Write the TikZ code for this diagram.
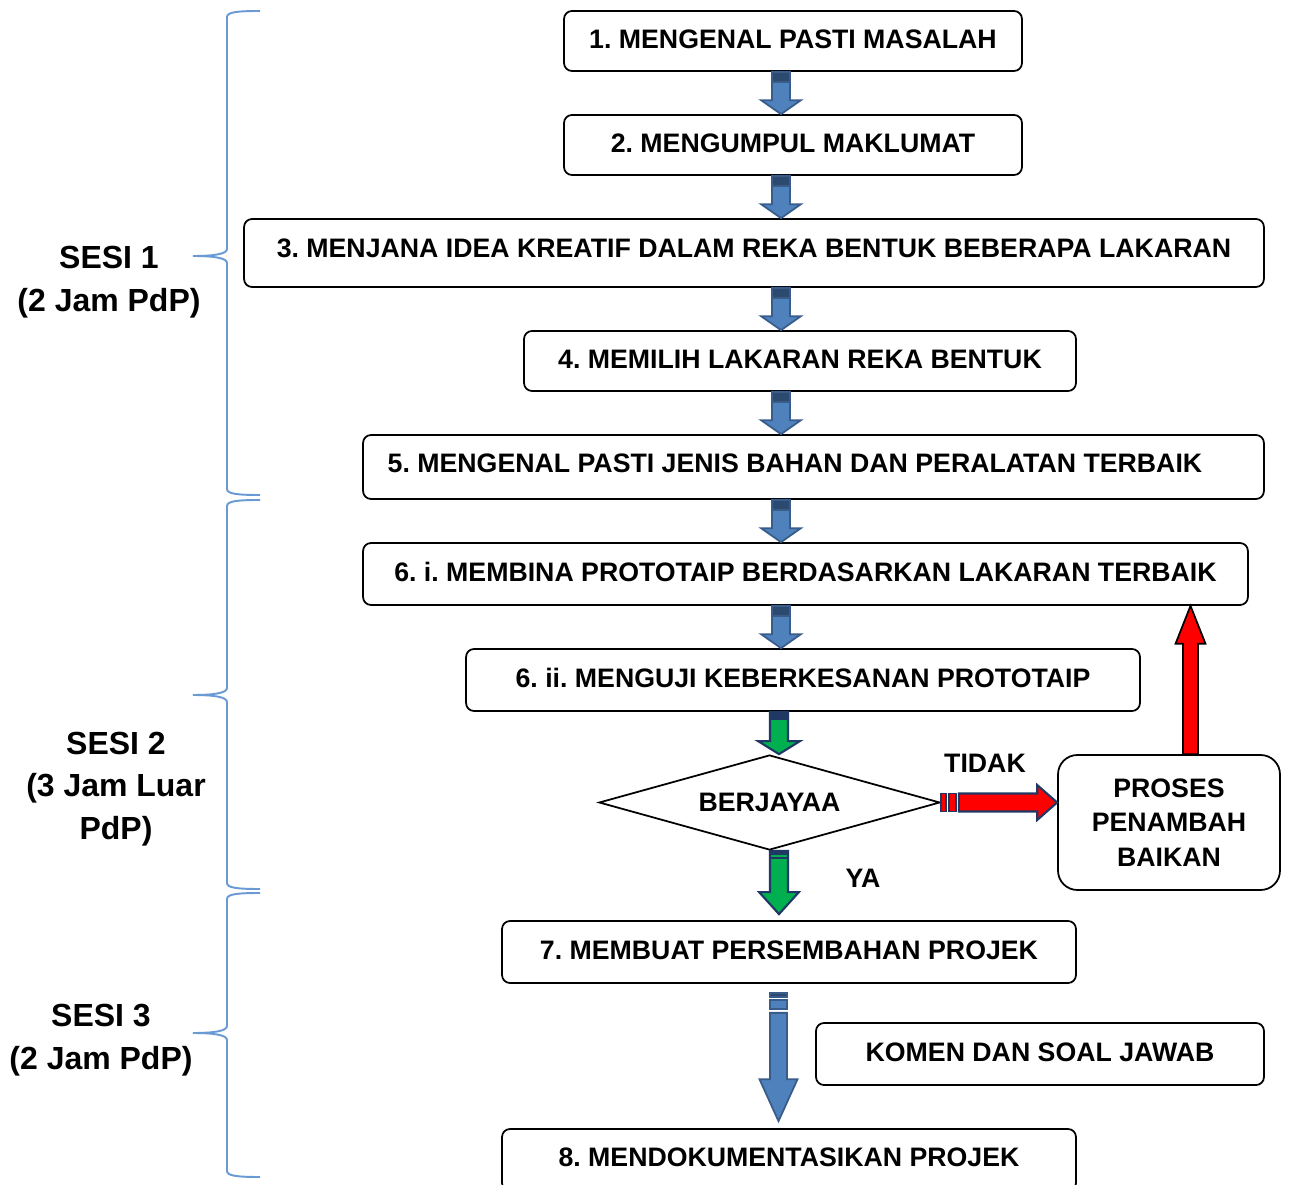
\documentclass[tikz,border=0pt]{standalone}
\usepackage{fontspec}
\setmainfont{Liberation Sans}
\frenchspacing
\usetikzlibrary{shapes.geometric,calc}
\definecolor{bluefill}{HTML}{4F81BD}
\definecolor{blueline}{HTML}{385D8A}
\definecolor{bluecap}{HTML}{2C4A70}
\definecolor{navy}{HTML}{1F3864}
\definecolor{greenfill}{HTML}{00B050}
\definecolor{bracecol}{HTML}{6A9AD4}
\definecolor{redfill}{HTML}{FF0000}
\tikzset{
  box/.style={draw=black, line width=1pt, rounded corners=4.5pt, inner sep=0pt, text depth=2.2pt,
    font=\fontsize{15.2}{18}\selectfont\bfseries},
  plaintext/.style={inner sep=0pt, font=\fontsize{15.2}{18}\selectfont\bfseries},
  sesi/.style={inner sep=0pt, align=center, font=\fontsize{18.2}{24.2}\selectfont\bfseries},
  bracestyle/.style={draw=bracecol, line width=1.1pt}
}
% down block arrow: #1 top point, #2 tip point, #3 shaft half, #4 head half, #5 head length, #6 fill, #7 draw, #8 lw
\newcommand{\dblk}[8]{%
  \path[fill=#6,draw=#7,line width=#8,line join=miter] let \p1=#1, \p2=#2 in
  (\x2-#3,\y1) -- (\x2+#3,\y1) -- (\x2+#3,\y2+#5) -- (\x2+#4,\y2+#5) -- (\x2,\y2)
  -- (\x2-#4,\y2+#5) -- (\x2-#3,\y2+#5) -- cycle;}
% up block arrow
\newcommand{\ublk}[8]{%
  \path[fill=#6,draw=#7,line width=#8,line join=miter] let \p1=#1, \p2=#2 in
  (\x2-#3,\y1) -- (\x2+#3,\y1) -- (\x2+#3,\y2-#5) -- (\x2+#4,\y2-#5) -- (\x2,\y2)
  -- (\x2-#4,\y2-#5) -- (\x2-#3,\y2-#5) -- cycle;}
% right block arrow
\newcommand{\rblk}[8]{%
  \path[fill=#6,draw=#7,line width=#8,line join=miter] let \p1=#1, \p2=#2 in
  (\x1,\y2-#3) -- (\x2-#5,\y2-#3) -- (\x2-#5,\y2-#4) -- (\x2,\y2) -- (\x2-#5,\y2+#4)
  -- (\x2-#5,\y2+#3) -- (\x1,\y2+#3) -- cycle;}
% cap on top of a down arrow: #1 point, #2 half width, #3 height, #4 fill, #5 draw, #6 lw
\newcommand{\dcap}[6]{%
  \path[fill=#4,draw=#5,line width=#6] let \p1=#1 in
  (\x1-#2,\y1) rectangle (\x1+#2,\y1-#3);}
\newcommand{\sesibrace}[3]{%
  \draw[bracestyle] (260,#1) .. controls (238,#1) and (227,#1+1) .. (227,#1+6)
   -- (227,#2-7) .. controls (227,#2-2) and (214,#2) .. (193,#2)
   .. controls (214,#2) and (227,#2+2) .. (227,#2+7)
   -- (227,#3-6) .. controls (227,#3-1) and (238,#3) .. (260,#3);}
\begin{document}
\begin{tikzpicture}[x=0.02cm, y=-0.02cm]
\useasboundingbox (0,0) rectangle (1292,1185);
\clip (0,0) rectangle (1292,1185);
\fill[white] (0,0) rectangle (1292,1185);

% columns
\coordinate (col) at (781,0);
\coordinate (gcol) at (779,0);
\coordinate (bcol) at (778.5,0);
\coordinate (ucol) at (1190.5,0);

% boxes
\node[box, minimum width=9.16cm, minimum height=1.2cm] (b1) at (793,41) {1. MENGENAL PASTI MASALAH};
\node[box, minimum width=9.16cm, minimum height=1.2cm] (b2) at (793,145) {2. MENGUMPUL MAKLUMAT};
\node[box, text depth=5.6pt, minimum width=20.4cm, minimum height=1.36cm] (b3) at (754,253) {3. MENJANA IDEA KREATIF DALAM REKA BENTUK BEBERAPA LAKARAN};
\node[box, minimum width=11.04cm, minimum height=1.2cm] (b4) at (800,361) {4. MEMILIH LAKARAN REKA BENTUK};
\node[box, minimum width=18.02cm, minimum height=1.28cm] (b5) at (813.5,467) {};
\node[plaintext] (t5) at (795,463) {5. MENGENAL PASTI JENIS BAHAN DAN PERALATAN TERBAIK};
\node[box, minimum width=17.7cm, minimum height=1.24cm] (b6) at (805.5,574) {6. i. MEMBINA PROTOTAIP BERDASARKAN LAKARAN TERBAIK};
\node[box, minimum width=13.48cm, minimum height=1.24cm] (b6b) at (803,680) {6. ii. MENGUJI KEBERKESANAN PROTOTAIP};
\node[diamond, draw=black, line width=1pt, aspect=3.59, minimum width=6.82cm, minimum height=1.9cm, inner sep=0pt,
  font=\fontsize{15.2}{18}\selectfont\bfseries] (dia) at (769.5,802.5) {BERJAYAA};
\node[box, text depth=0pt, rounded corners=11pt, align=center, minimum width=4.44cm, minimum height=2.7cm,
  font=\fontsize{15.2}{19.8}\selectfont\bfseries] (pr) at (1169,822.5) {PROSES\\PENAMBAH\\BAIKAN};
\node[box, minimum width=11.48cm, minimum height=1.24cm] (b7) at (789,952) {7. MEMBUAT PERSEMBAHAN PROJEK};
\node[box, minimum width=8.96cm, minimum height=1.24cm] (km) at (1040,1054) {KOMEN DAN SOAL JAWAB};
\node[box, minimum width=11.48cm, minimum height=1.24cm] (b8) at (789,1160) {};
\node[plaintext] (t8) at (789,1157) {8. MENDOKUMENTASIKAN PROJEK};

\node[plaintext] (tidak) at (985,763) {TIDAK};
\node[plaintext] (ya) at (863,878) {YA};

% blue arrows
\foreach \a/\b in {b1/b2, b2/b3, b3/b4, b4/b5, b5/b6, b6/b6b}{
  \dblk{(\a.south -| col)}{(\b.north -| col)}{5.1pt}{11.3pt}{7.9pt}{bluefill}{blueline}{1pt}
  \dcap{(\a.south -| col)}{5.1pt}{5.7pt}{bluecap}{blueline}{0.8pt}
}

% green arrows
\dblk{(b6b.south -| gcol)}{(dia.north -| gcol)}{5.1pt}{11.9pt}{7.4pt}{greenfill}{navy}{1.2pt}
\dcap{(b6b.south -| gcol)}{5.1pt}{4pt}{navy}{navy}{1.2pt}
\dblk{(dia.south -| gcol)}{($(b7.north -| gcol)+(0,-6)$)}{5.1pt}{11.3pt}{12.5pt}{greenfill}{navy}{1.2pt}
\dcap{(dia.south -| gcol)}{5.1pt}{1.8pt}{navy}{navy}{1.2pt}
\path let \p1=(dia.south -| gcol) in [draw=navy, line width=1.1pt] (\x1-5.1pt,\y1-4pt) -- (\x1+5.1pt,\y1-4pt);

% red right arrow with stripes
\path[fill=redfill, draw=navy, line width=1.1pt] ($(dia.east)+(0,-9)$) rectangle ($(dia.east)+(5,9)$);
\path[fill=redfill, draw=navy, line width=1.1pt] ($(dia.east)+(8,-9)$) rectangle ($(dia.east)+(15,9)$);
\rblk{($(dia.east)+(18,0)$)}{(pr.west |- dia.east)}{5.1pt}{9.9pt}{11.3pt}{redfill}{navy}{1.2pt}

% red up arrow
\ublk{(pr.north -| ucol)}{(b6.south -| ucol)}{4.25pt}{8.5pt}{21.5pt}{redfill}{black}{1pt}

% bottom blue arrow with stripes
\path let \p1=($(b7.south -| bcol)+(0,9)$) in
  [fill=bluecap, draw=blueline, line width=0.8pt] (\x1-4.8pt,\y1) rectangle (\x1+4.8pt,\y1-2.3pt);
\path let \p1=($(b7.south -| bcol)+(0,16)$) in
  [fill=bluefill, draw=blueline, line width=0.8pt] (\x1-4.8pt,\y1) rectangle (\x1+4.8pt,\y1-5.1pt);
\dblk{($(b7.south -| bcol)+(0,29)$)}{($(b8.north -| bcol)+(0,-7)$)}{4.8pt}{10.8pt}{23.8pt}{bluefill}{blueline}{1pt}

% braces
\sesibrace{11}{256}{495}
\sesibrace{500}{695}{889}
\sesibrace{893}{1033}{1177}

% session labels
\node[sesi] (s1) at (109,282) {SESI 1\\(2 Jam PdP)};
\node[sesi] (s2) at (116,789) {SESI 2\\(3 Jam Luar\\PdP)};
\node[sesi] (s3) at (101,1040) {SESI 3\\(2 Jam PdP)};
\end{tikzpicture}
\end{document}
